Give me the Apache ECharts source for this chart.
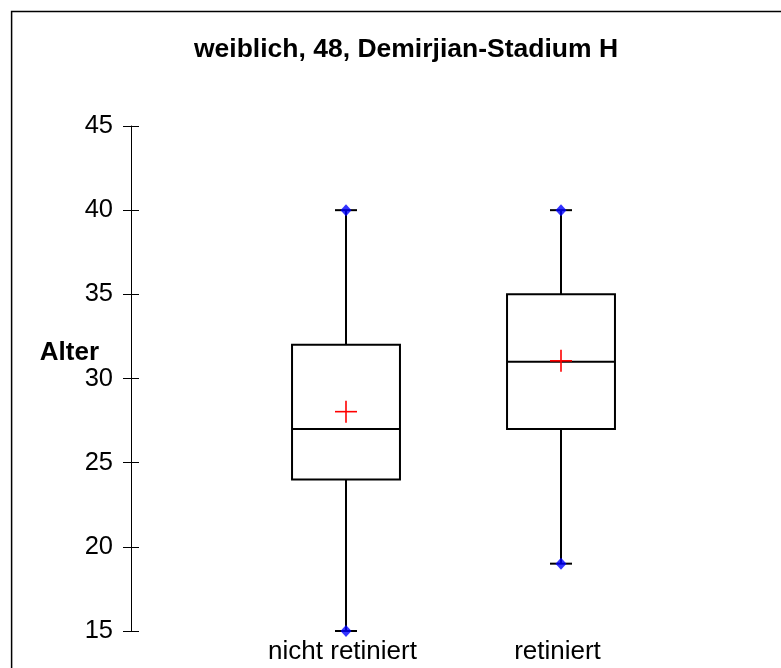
<!DOCTYPE html>
<html>
<head>
<meta charset="utf-8">
<script src="https://cdn.jsdelivr.net/npm/echarts@6/dist/echarts.min.js"></script>
<style>
html,body{margin:0;padding:0;background:#fff;}
#chart{width:781px;height:668px;}
</style>
</head>
<body>
<div id="chart"></div>
<script>
var categories = ['nicht retiniert', 'retiniert'];
var minVals = [15, 19];
var q1Vals = [24, 27];
var medianVals = [27, 31];
var q3Vals = [32, 35];
var maxVals = [40, 40];
var meanVals = [28.03, 31.05];
var yMin = 15, yMax = 45, yStep = 5;
var yTitle = 'Alter';

var FONT = '"Liberation Sans", Arial, sans-serif';

var boxData = categories.map(function (c, i) {
  return [i, minVals[i], q1Vals[i], medianVals[i], q3Vals[i], maxVals[i], meanVals[i]];
});
var endPoints = [];
categories.forEach(function (c, i) {
  endPoints.push([i, minVals[i]]);
  endPoints.push([i, maxVals[i]]);
});

function renderBox(params, api) {
  var i = api.value(0);
  var pMin = api.coord([i, api.value(1)]);
  var pQ1 = api.coord([i, api.value(2)]);
  var pMed = api.coord([i, api.value(3)]);
  var pQ3 = api.coord([i, api.value(4)]);
  var pMax = api.coord([i, api.value(5)]);
  var pMean = api.coord([i, api.value(6)]);
  var band = api.size([1, 0])[0];
  var bw = band * 0.502;
  var cx = pMed[0];
  var cap = 11;
  var ln = {stroke: '#000', lineWidth: 2};
  var red = {stroke: '#ff0000', lineWidth: 1.6};
  return {
    type: 'group',
    children: [
      {type: 'line', shape: {x1: cx, y1: pQ3[1], x2: cx, y2: pMax[1]}, style: ln},
      {type: 'line', shape: {x1: cx, y1: pQ1[1], x2: cx, y2: pMin[1]}, style: ln},
      {type: 'line', shape: {x1: cx - cap, y1: pMax[1], x2: cx + cap, y2: pMax[1]}, style: ln},
      {type: 'line', shape: {x1: cx - cap, y1: pMin[1], x2: cx + cap, y2: pMin[1]}, style: ln},
      {type: 'rect', shape: {x: cx - bw / 2, y: pQ3[1], width: bw, height: pQ1[1] - pQ3[1]},
        style: {fill: 'none', stroke: '#000', lineWidth: 2}},
      {type: 'line', shape: {x1: cx - bw / 2, y1: pMed[1], x2: cx + bw / 2, y2: pMed[1]}, style: ln},
      {type: 'line', shape: {x1: cx - 11, y1: pMean[1], x2: cx + 11, y2: pMean[1]}, style: red},
      {type: 'line', shape: {x1: cx, y1: pMean[1] - 11, x2: cx, y2: pMean[1] + 11}, style: red}
    ]
  };
}

var chart = echarts.init(document.getElementById('chart'));
chart.setOption({
  backgroundColor: '#fff',
  animation: false,
  title: {
    text: 'weiblich, 48, Demirjian-Stadium H',
    left: 401,
    top: 31,
    textAlign: 'center',
    textStyle: {fontFamily: FONT, fontSize: 26.5, fontWeight: 'bold', color: '#000'}
  },
  graphic: [
    {type: 'rect', shape: {x: 11.6, y: 11.6, width: 900, height: 900},
      style: {fill: 'none', stroke: '#000', lineWidth: 1.5}, silent: true, z: 100},
    {type: 'text', x: 99, y: 353, silent: true,
      style: {text: yTitle, textAlign: 'right', textVerticalAlign: 'middle',
        font: 'bold 26px ' + FONT, fill: '#000'}}
  ],
  grid: {left: 238.5, width: 430, top: 126, bottom: 37},
  xAxis: {
    type: 'category',
    data: categories,
    boundaryGap: true,
    axisLine: {show: false},
    axisTick: {show: false},
    splitLine: {show: false},
    axisLabel: {margin: 8, color: '#000', fontFamily: FONT, fontSize: 26, padding: [0, 7, 0, 0]}
  },
  yAxis: [{
    type: 'value',
    min: yMin, max: yMax, interval: yStep,
    offset: 107.5,
    axisLine: {show: true, lineStyle: {color: '#000', width: 1}},
    axisTick: {show: true, length: 8, lineStyle: {color: '#000', width: 1}},
    splitLine: {show: false},
    axisLabel: {margin: 18, color: '#000', fontFamily: FONT, fontSize: 25.5}
  }, {
    type: 'value',
    min: yMin, max: yMax, interval: yStep,
    offset: 107.5,
    position: 'left',
    axisLine: {show: false},
    axisTick: {show: true, inside: true, length: 8, lineStyle: {color: '#000', width: 1}},
    splitLine: {show: false},
    axisLabel: {show: false}
  }],
  series: [{
    type: 'custom',
    renderItem: renderBox,
    data: boxData,
    encode: {x: 0, y: [1, 2, 3, 4, 5, 6]},
    z: 2
  }, {
    type: 'scatter',
    data: endPoints,
    symbol: 'diamond',
    symbolSize: [11, 12],
    itemStyle: {color: '#0000ff'},
    z: 3
  }]
});
</script>
</body>
</html>
